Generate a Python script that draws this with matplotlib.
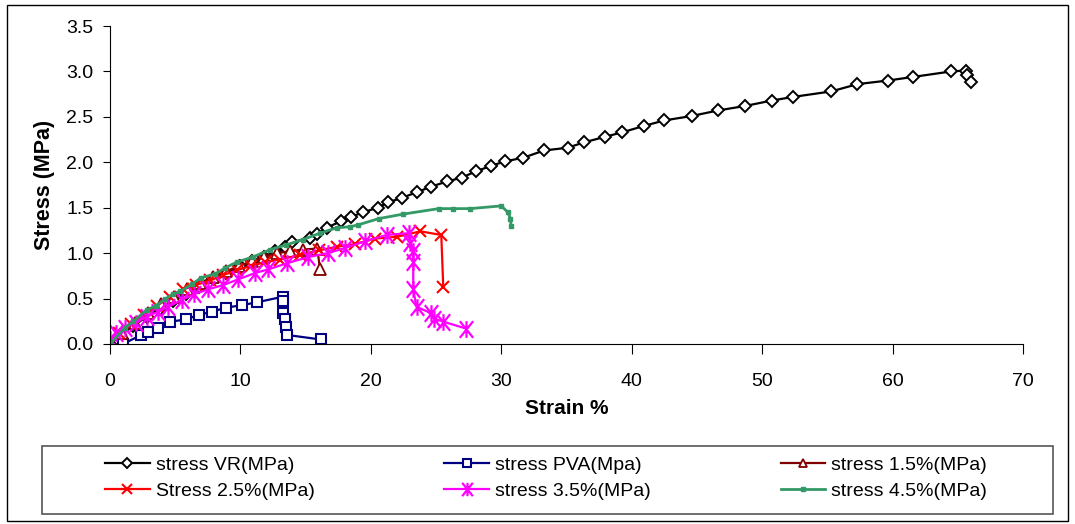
import matplotlib
matplotlib.use("Agg")
import matplotlib.pyplot as plt
from matplotlib.patches import Rectangle
from matplotlib.path import Path

plt.rcParams['font.family'] = ['Liberation Sans', 'DejaVu Sans']

# strain %, stress MPa
vr_x = [0, 0.8, 1.8, 2.8, 3.8, 4.8, 5.8, 6.8, 7.9, 8.9, 10.0, 10.9, 11.8, 12.65, 13.4, 13.98,
        15.3, 15.9, 16.6, 17.7, 18.48, 19.42, 20.52, 21.34, 22.41, 23.51, 24.59, 25.86, 26.96,
        28.04, 29.21, 30.28, 31.69, 33.27, 35.09, 36.36, 37.95, 39.27, 40.94, 42.47, 44.62,
        46.6, 48.7, 50.75, 52.4, 55.3, 57.3, 59.65, 61.6, 64.5, 65.6, 65.7, 66.0]
vr_y = [0, 0.1, 0.2, 0.3, 0.39, 0.47, 0.55, 0.63, 0.71, 0.78, 0.86, 0.91, 0.96, 1.02, 1.07, 1.12,
        1.17, 1.21, 1.28, 1.35, 1.40, 1.45, 1.50, 1.56, 1.61, 1.67, 1.73, 1.79, 1.83,
        1.90, 1.96, 2.01, 2.05, 2.13, 2.16, 2.22, 2.28, 2.33, 2.40, 2.46, 2.51,
        2.57, 2.62, 2.68, 2.72, 2.78, 2.86, 2.90, 2.94, 3.00, 3.01, 2.96, 2.88]

pva_x = [1.0, 2.4, 2.9, 3.7, 4.6, 5.8, 6.8, 7.85, 8.9, 10.1, 11.3, 13.24, 13.29, 13.3, 13.4,
         13.5, 13.55, 16.15]
pva_y = [0.0, 0.1, 0.135, 0.18, 0.245, 0.27, 0.32, 0.357, 0.40, 0.427, 0.46, 0.52, 0.47, 0.34,
         0.28, 0.19, 0.10, 0.05]

s15_x = [0, 0.9, 1.9, 2.9, 3.9, 4.9, 5.9, 6.9, 7.9, 8.9, 9.9, 10.9, 11.8, 12.8, 13.8, 14.8,
         15.9, 16.1]
s15_y = [0, 0.12, 0.23, 0.34, 0.44, 0.52, 0.6, 0.67, 0.74, 0.8, 0.86, 0.91, 0.96, 1.0, 1.02,
         1.04, 1.05, 0.82]

s25_x = [0, 0.7, 1.6, 2.6, 3.6, 4.6, 5.6, 6.6, 7.7, 8.7, 9.7, 10.8, 11.9, 13.0, 14.6, 16.0,
         17.4, 18.8, 20.3, 22.0, 23.8, 25.4, 25.55]
s25_y = [0, 0.12, 0.22, 0.32, 0.42, 0.52, 0.6, 0.65, 0.7, 0.76, 0.81, 0.86, 0.9, 0.93, 0.98,
         1.03, 1.07, 1.1, 1.16, 1.18, 1.24, 1.20, 0.63]

s35_x = [0, 0.46, 1.15, 2.0, 2.8, 3.7, 4.47, 5.5, 6.47, 7.5, 8.7, 9.8, 11.1, 12.1, 13.6, 15.2,
         16.7, 18.0, 19.55, 21.2, 22.9, 23.0, 23.2, 23.25, 23.25, 23.5, 24.6, 24.85, 25.55, 27.3]
s35_y = [0.06, 0.125, 0.18, 0.235, 0.30, 0.357, 0.41, 0.485, 0.55, 0.60, 0.65, 0.71, 0.78,
         0.82, 0.89, 0.957, 1.0, 1.056, 1.13, 1.20, 1.22, 1.11, 1.02, 0.90, 0.60, 0.41, 0.34,
         0.28, 0.246, 0.17]

s45_x = [0, 1.15, 1.8, 2.8, 3.5, 4.2, 4.8, 5.4, 6.3, 7.0, 8.05, 8.8, 9.7, 11.0, 12.3, 13.5,
         14.8, 16.1, 17.4, 18.4, 19.0, 20.6, 22.5, 25.2, 26.3, 27.6, 30.0, 30.5, 30.7, 30.75]
s45_y = [0, 0.18, 0.25, 0.375, 0.42, 0.49, 0.55, 0.58, 0.66, 0.73, 0.77, 0.835, 0.90, 0.96,
         1.04, 1.09, 1.15, 1.22, 1.28, 1.29, 1.31, 1.38, 1.43, 1.49, 1.49, 1.49, 1.52, 1.45,
         1.38, 1.30]

labels = ["stress VR(MPa)", "stress PVA(Mpa)", "stress 1.5%(MPa)",
          "Stress 2.5%(MPa)", "stress 3.5%(MPa)", "stress 4.5%(MPa)"]

# excel style star: an x with a vertical bar through it
star = Path([(-0.8, -1), (0.8, 1), (-0.8, 1), (0.8, -1), (0, -1), (0, 1)],
            [Path.MOVETO, Path.LINETO, Path.MOVETO, Path.LINETO, Path.MOVETO, Path.LINETO])

fig = plt.figure(figsize=(10.75, 5.24), dpi=100)
ax = fig.add_axes([110/1075, 1-344/524, 913/1075, 318/524])

h1, = ax.plot(vr_x, vr_y, color="black", lw=1.6, marker="D", ms=6.5, mfc="white", mec="black", mew=1.4)
h2, = ax.plot(pva_x, pva_y, color="#000080", lw=1.6, marker="s", ms=7.5, mfc="white", mec="#000080", mew=1.5)
h3, = ax.plot(s15_x, s15_y, color="#800000", lw=1.6, marker="^", ms=8, mfc="white", mec="#800000", mew=1.3)
h4, = ax.plot(s25_x, s25_y, color="red", lw=1.6, marker="x", ms=9, mew=1.5)
h5, = ax.plot(s35_x, s35_y, color="#ff00ff", lw=1.6, marker=star, ms=12, mew=1.6)
h6, = ax.plot(s45_x, s45_y, color="#339966", lw=2, marker="s", ms=3.5, mfc="#339966", mec="#339966")

ax.set_xlim(0, 70)
ax.set_ylim(0, 3.5)
ax.set_xticks(range(0, 71, 10))
ax.set_yticks([0, 0.5, 1.0, 1.5, 2.0, 2.5, 3.0, 3.5])
ax.set_yticklabels(["0.0", "0.5", "1.0", "1.5", "2.0", "2.5", "3.0", "3.5"])
ax.spines['top'].set_visible(False)
ax.spines['right'].set_visible(False)
ax.tick_params(axis='x', direction='out', length=7, pad=14, labelsize=14)
ax.tick_params(axis='y', direction='out', length=5, pad=7, labelsize=14)
ax.set_xlabel("Strain %", fontsize=15, fontweight='bold', labelpad=6)
ax.set_ylabel("Stress (MPa)", fontsize=15.5, fontweight='bold', labelpad=8)

# legend fills row by row in the picture, matplotlib fills column by column
order = [0, 3, 1, 4, 2, 5]
handles = [h1, h2, h3, h4, h5, h6]
leg = fig.legend([handles[i] for i in order], [labels[i] for i in order],
                 ncol=3, mode='expand', loc='center left',
                 bbox_to_anchor=(105/1075, 1-478/524, 882/1075, 0.0),
                 fontsize=14, frameon=False, handlelength=2.3, handletextpad=0.3,
                 labelspacing=0.45, borderpad=0, borderaxespad=0, markerscale=0.8)

fig.patches.append(Rectangle((42/1075, 1-514/524), 1011/1075, 68/524, transform=fig.transFigure,
                             fill=False, edgecolor="#555555", lw=1.2))
fig.patches.append(Rectangle((7/1075, 1-521/524), 1061/1075, 516/524, transform=fig.transFigure,
                             fill=False, edgecolor="black", lw=1.0))

fig.savefig("out.png", dpi=100)
